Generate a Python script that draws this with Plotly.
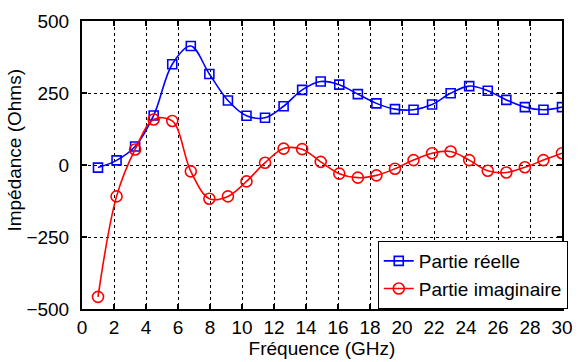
import numpy as np
import plotly.graph_objects as go

freq = [1.00, 2.16, 3.32, 4.48, 5.64, 6.80, 7.96, 9.12, 10.28, 11.44, 12.60, 13.76, 14.92,
        16.08, 17.24, 18.40, 19.56, 20.72, 21.88, 23.04, 24.20, 25.36, 26.52, 27.68, 28.84, 30.00]
reelle = [-9, 16, 64, 172, 350, 413, 316, 224, 171, 164, 204, 261, 290,
          279, 246, 214, 194, 192, 210, 249, 274, 258, 226, 201, 192, 201]
imaginaire = [-458, -109, 54, 158, 153, -22, -117, -109, -57, 8, 57, 55, 11,
              -30, -44, -36, -13, 17, 41, 47, 17, -20, -26, -8, 17, 41]

xticks = list(range(0, 31, 2))
yticks = [-500, -250, 0, 250, 500]

font = "Liberation Sans, Arial, sans-serif"

fig = go.Figure()
fig.add_trace(go.Scatter(
    x=freq, y=reelle, name="Partie réelle", mode="lines+markers",
    line=dict(color="#0000ff", width=1.6, shape="spline", smoothing=1.0),
    marker=dict(symbol="square-open", size=9, color="#0000ff", line=dict(width=1.6))))
fig.add_trace(go.Scatter(
    x=freq, y=imaginaire, name="Partie imaginaire", mode="lines+markers",
    line=dict(color="#ff0000", width=1.6, shape="spline", smoothing=1.0),
    marker=dict(symbol="circle-open", size=11, color="#ff0000", line=dict(width=1.6))))

axis_common = dict(
    showline=True, linecolor="black", linewidth=2, mirror="ticks",
    ticks="inside", ticklen=5, tickcolor="black", tickwidth=1.5,
    showgrid=True, gridcolor="black", griddash="dot", gridwidth=0.7,
    zeroline=False, tickfont=dict(family=font, size=19, color="black"),
)

fig.update_layout(
    width=584, height=362,
    margin=dict(l=82, r=11, t=15, b=47),
    paper_bgcolor="white", plot_bgcolor="white",
    font=dict(family=font, size=19, color="black"),
    xaxis=dict(range=[0, 30], tickvals=xticks,
               title=dict(text="Fréquence (GHz)", font=dict(size=19), standoff=0),
               **axis_common),
    yaxis=dict(range=[-500, 500], tickvals=yticks, ticklabelstandoff=7,
               **axis_common),
    legend=dict(x=1.012, y=0.0, xanchor="right", yanchor="bottom",
                bgcolor="white", bordercolor="black", borderwidth=1,
                font=dict(family=font, size=19), tracegroupgap=0,
                itemwidth=30),
    showlegend=True,
    annotations=[dict(text="Impédance (Ohms)", textangle=-90, xref="paper", yref="paper",
                      x=0, y=0.55, xanchor="center", yanchor="middle", xshift=-67,
                      showarrow=False, font=dict(family=font, size=19, color="black"))],
)

fig.write_html("out.html", config={"displayModeBar": False},
               post_script="document.body.style.margin='0';")
